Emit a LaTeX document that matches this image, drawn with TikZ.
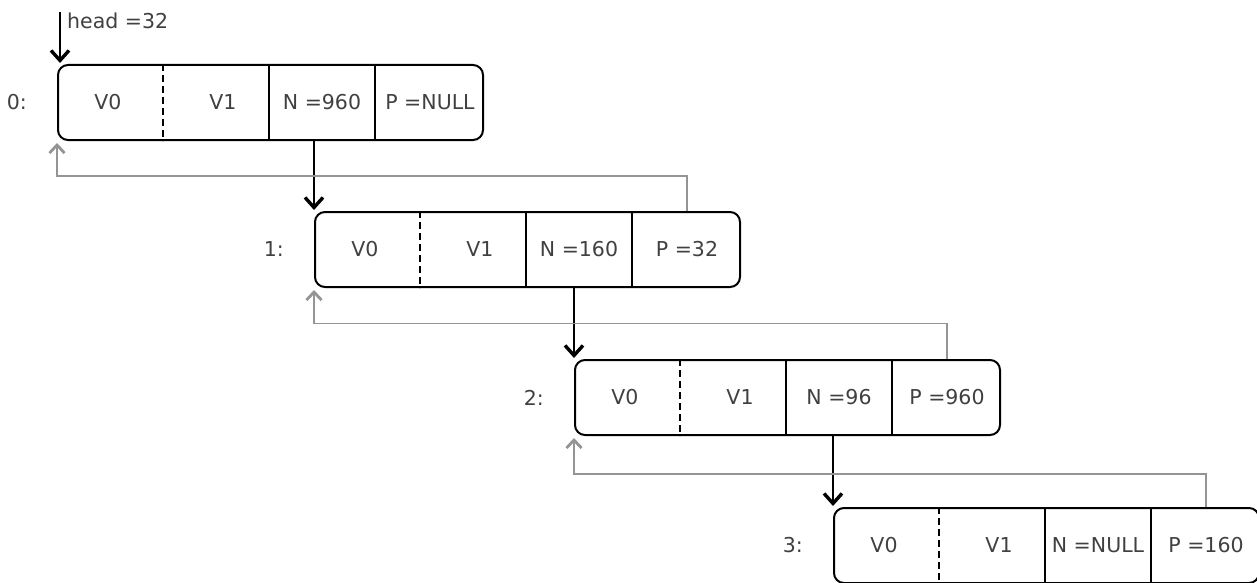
\documentclass[tikz,border=0pt]{standalone}
\usepackage{fontspec}
\setmainfont{DejaVu Sans}
\usetikzlibrary{arrows.meta,calc}
\begin{document}
\begin{tikzpicture}[x=1pt,y=-1pt,
  box/.style={draw=black, line width=2pt, rounded corners=10pt, minimum width=425pt, minimum height=75pt, inner sep=0pt, anchor=north west},
  txt/.style={text=black!75, font=\fontsize{20.5}{24}\selectfont, inner sep=0pt},
  sep/.style={draw=black, line width=1.8pt},
  dsep/.style={draw=black, line width=1.8pt, dash pattern=on 7pt off 4pt},
  nxt/.style={draw=black, line width=2pt, -{Straight Barb[length=10pt,width=18pt,line width=3.4pt]}, shorten >=1pt},
  prv/.style={draw=black!42, line width=1.8pt, -{Straight Barb[length=8pt,width=15pt,line width=2.8pt]}, shorten >=2pt},
]
\useasboundingbox (0,0) rectangle (1257,583);
\clip (0,0) rectangle (1257,583);

\foreach \i/\L/\T/\N/\P in {0/57/64/960/NULL, 1/314/211/160/32, 2/574/359/96/960, 3/833/507/NULL/160} {
  \node[box] (b\i) at (\L,\T) {};
  \draw[dsep] ([xshift=106pt]b\i.north west) -- ([xshift=106pt]b\i.south west);
  \draw[sep] ([xshift=212pt]b\i.north west) -- ([xshift=212pt]b\i.south west);
  \draw[sep] ([xshift=318pt]b\i.north west) -- ([xshift=318pt]b\i.south west);
  \node[txt] (va\i) at ([xshift=51pt]b\i.west) {V0};
  \node[txt] (vb\i) at ([xshift=166pt]b\i.west) {V1};
  \node[txt] (n\i) at ([xshift=265pt]b\i.west) {N =\N};
  \node[txt] (p\i) at ([xshift=373pt]b\i.west) {P =\P};
  \node[txt, anchor=east] (lab\i) at ([xshift=-30pt]b\i.west) {\i:};
}

% head pointer
\coordinate (h) at (60,12);
\draw[nxt] (h) -- (h |- b0.north);
\node[txt, anchor=west] (head) at (67,21) {head =32};

% next pointers
\draw[nxt] (b0.south -| b1.west) -- (b1.north west);
\draw[nxt] (b1.south -| b2.west) -- (b2.north west);
\draw[nxt] (b2.south -| b3.west) -- (b3.north west);

% prev pointers
\coordinate (m1) at ($(b0.south west)!0.5!(b1.north west)$);
\coordinate (m2) at ($(b1.south west)!0.5!(b2.north west)$);
\coordinate (m3) at ($(b2.south west)!0.54!(b3.north west)$);
\draw[prv] (p1 |- b1.north) -- (p1 |- m1) -- (b0.west |- m1) -- (b0.south west);
\draw[prv] (p2 |- b2.north) -- (p2 |- m2) -- (b1.west |- m2) -- (b1.south west);
\draw[prv] (p3 |- b3.north) -- (p3 |- m3) -- (b2.west |- m3) -- (b2.south west);
\end{tikzpicture}
\end{document}
